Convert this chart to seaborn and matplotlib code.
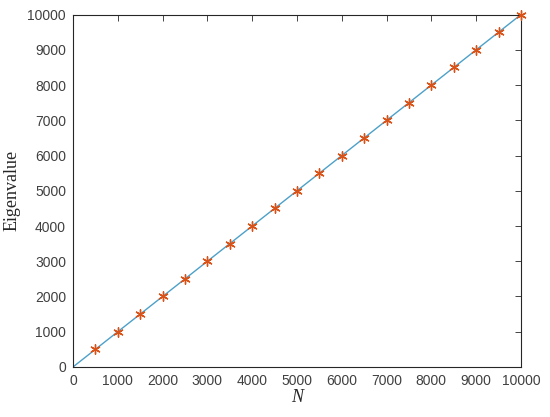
import matplotlib
matplotlib.use("Agg")
import numpy as np
import pandas as pd
import seaborn as sns
from matplotlib import pyplot as plt

# fitted line
line_n = [0, 2000, 4000, 6000, 8000, 10000]
line_eig = [0, 2000, 4000, 6000, 8000, 10000]

# computed eigenvalues
pts_n = [500, 1000, 1500, 2000, 2500, 3000, 3500, 4000, 4500, 5000,
         5500, 6000, 6500, 7000, 7500, 8000, 8500, 9000, 9500, 10000]
pts_eig = [500, 1000, 1500, 2000, 2500, 3000, 3500, 4000, 4500, 5000,
           5500, 6000, 6500, 7000, 7500, 8000, 8500, 9000, 9500, 10000]

ticks = [0, 1000, 2000, 3000, 4000, 5000, 6000, 7000, 8000, 9000, 10000]

sns.set_style("white")
plt.rcParams['font.family'] = ['Liberation Sans', 'DejaVu Sans']

fig = plt.figure(figsize=(5.5, 4.17), dpi=100)
ax = fig.add_axes([0.1327, 0.12, 0.8145, 0.845])

df_line = pd.DataFrame({'N': line_n, 'eig': line_eig})
df_pts = pd.DataFrame({'N': pts_n, 'eig': pts_eig})
sns.lineplot(data=df_line, x='N', y='eig', color='#4da0c8', linewidth=1.0, ax=ax)
sns.scatterplot(data=df_pts, x='N', y='eig', marker=(6, 2, 0), s=45, color='#d95319',
                linewidth=1.0, edgecolor='#d95319', ax=ax, zorder=3, clip_on=False)

ax.set_xlim(0, 10000)
ax.set_ylim(0, 10000)
ax.set_xticks(ticks)
ax.set_yticks(ticks)
ax.tick_params(direction='in', length=4, width=0.6, top=True, right=True,
               labelsize=10, colors='#262626', labelcolor='#404040', pad=5)
ax.tick_params(axis='x', labeltop=False)
ax.tick_params(axis='y', labelright=False)
for sp in ax.spines.values():
    sp.set_color('#262626')
    sp.set_linewidth(0.8)

ax.set_xlabel('N', family='Liberation Serif', style='italic', fontsize=13, labelpad=1)
ax.set_ylabel('Eigenvalue', family='Liberation Serif', fontsize=13, labelpad=5)

fig.savefig('out.png', dpi=100, facecolor='white')
